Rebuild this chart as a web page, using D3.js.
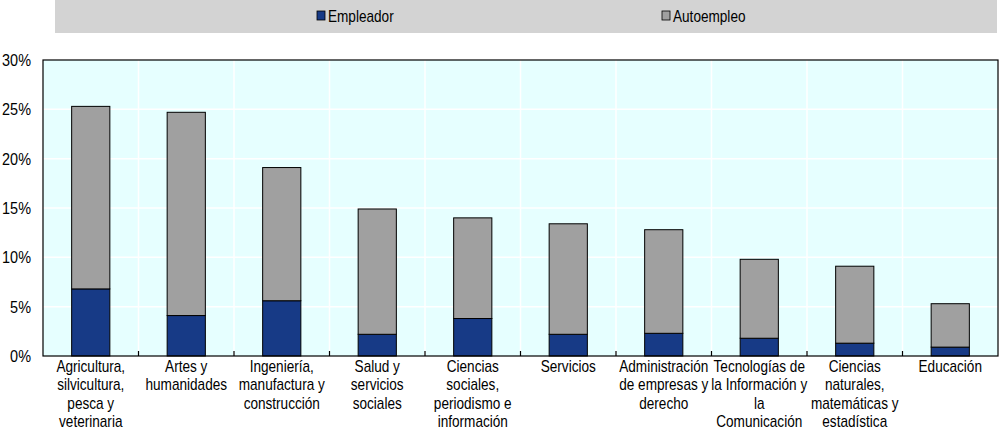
<!DOCTYPE html>
<html><head><meta charset="utf-8">
<script src="https://cdn.jsdelivr.net/npm/d3@7"></script>
<style>
body{margin:0;background:#fff;}
svg text{font-family:"Liberation Sans Narrow","Arial Narrow","Liberation Sans",sans-serif;fill:#000;}
</style></head>
<body><svg id="c" width="1000" height="430"></svg>
<script>
const categories = [
  ["Agricultura,","silvicultura,","pesca y","veterinaria"],
  ["Artes y","humanidades"],
  ["Ingeniería,","manufactura y","construcción"],
  ["Salud y","servicios","sociales"],
  ["Ciencias","sociales,","periodismo e","información"],
  ["Servicios"],
  ["Administración","de empresas y","derecho"],
  ["Tecnologías de","la Información y","la","Comunicación"],
  ["Ciencias","naturales,","matemáticas y","estadística"],
  ["Educación"]
];
const empleador  = [6.8, 4.1, 5.6, 2.2, 3.8, 2.2, 2.3, 1.8, 1.3, 0.9];
const autoempleo = [18.5, 20.6, 13.5, 12.7, 10.2, 11.2, 10.5, 8.0, 7.8, 4.4];
const seriesNames = ["Empleador", "Autoempleo"];
const seriesColors = ["#173a86", "#a0a0a0"];
const yTicks = [0, 5, 10, 15, 20, 25, 30];

const SX = 0.85; // narrow-font emulation
const svg = d3.select("#c");
const L = 43, R = 998, T = 60, B = 356;
const idx = d3.range(categories.length);
const x = d3.scaleBand().domain(idx).range([L, R]).paddingInner(0.6).paddingOuter(0.3);
const xb = d3.scaleBand().domain(idx).range([L, R]);
const y = d3.scaleLinear().domain([0, 30]).range([B, T]);

// legend band
svg.append("rect").attr("x", 55).attr("y", 0).attr("width", 942).attr("height", 33).attr("fill", "#d3d3d3");
const legX = [317, 662];
seriesNames.forEach((n, i) => {
  svg.append("rect").attr("x", legX[i]).attr("y", 11).attr("width", 8).attr("height", 9)
    .attr("fill", seriesColors[i]).attr("stroke", "#000").attr("stroke-width", 0.8);
  svg.append("text").attr("transform", `translate(${legX[i] + 11},22) scale(${SX},1)`)
    .attr("font-size", 16).text(n);
});

// plot background
svg.append("rect").attr("x", L).attr("y", T).attr("width", R - L).attr("height", B - T).attr("fill", "#e6ffff");
// horizontal gridlines
svg.append("g").selectAll("line").data(yTicks.slice(1, -1)).join("line")
  .attr("x1", L).attr("x2", R).attr("y1", d => y(d)).attr("y2", d => y(d))
  .attr("stroke", "#fff").attr("stroke-width", 1.5);
// vertical gridlines
svg.append("g").selectAll("line").data(idx.slice(1)).join("line")
  .attr("x1", d => xb(d)).attr("x2", d => xb(d)).attr("y1", T).attr("y2", B)
  .attr("stroke", "#fff").attr("stroke-width", 1.5);

// bars
const stackData = idx.map(i => ({i, Empleador: empleador[i], Autoempleo: autoempleo[i]}));
const stack = d3.stack().keys(seriesNames)(stackData);
stack.forEach((s, k) => {
  svg.append("g").selectAll("rect").data(s).join("rect")
    .attr("x", d => x(d.data.i)).attr("width", x.bandwidth())
    .attr("y", d => y(d[1])).attr("height", d => y(d[0]) - y(d[1]))
    .attr("fill", seriesColors[k]).attr("stroke", "#000").attr("stroke-width", 1);
});

// frame
svg.append("rect").attr("x", L).attr("y", T).attr("width", R - L).attr("height", B - T)
  .attr("fill", "none").attr("stroke", "#000").attr("stroke-width", 1.2);
// bottom ticks
svg.append("g").selectAll("line").data(idx.slice(1)).join("line")
  .attr("x1", d => xb(d)).attr("x2", d => xb(d)).attr("y1", B).attr("y2", B - 5)
  .attr("stroke", "#000").attr("stroke-width", 1.2);

// y labels
svg.append("g").selectAll("text").data(yTicks).join("text")
  .attr("transform", d => `translate(31,${y(d) + 6}) scale(${SX},1)`)
  .attr("text-anchor", "end").attr("font-size", 17)
  .text(d => d + "%");

// x labels
const xl = svg.append("g").selectAll("text").data(idx).join("text")
  .attr("text-anchor", "middle").attr("font-size", 16)
  .attr("transform", d => `translate(${xb(d) + xb.bandwidth() / 2},${B + 16}) scale(${SX},1)`);
xl.each(function(d) {
  d3.select(this).selectAll("tspan").data(categories[d]).join("tspan")
    .attr("x", 0).attr("dy", (t, j) => j === 0 ? 0 : 18.3).text(t => t);
});
</script></body></html>
